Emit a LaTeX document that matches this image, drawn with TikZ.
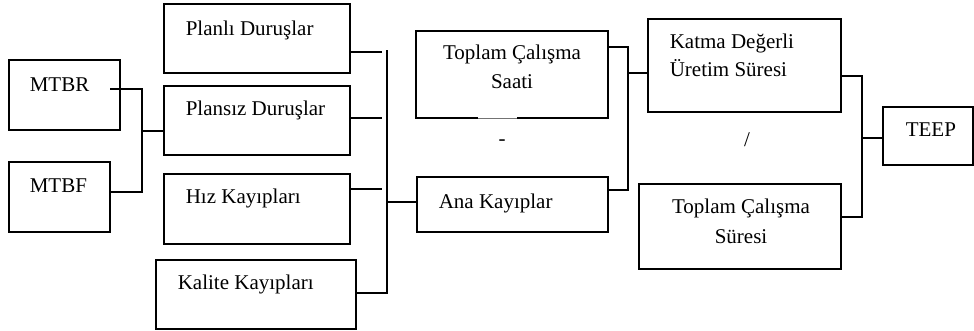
\documentclass[tikz,border=0pt]{standalone}
\usepackage{fontspec}
\setmainfont{Liberation Serif}
\usetikzlibrary{calc}
\begin{document}
\begin{tikzpicture}[x=1pt,y=-1pt,
  line width=1.6pt,
  box/.style={draw, rectangle, inner sep=0pt, outer sep=0pt, anchor=north west},
  lbl/.style={inner sep=0pt, anchor=base west, font=\fontsize{21}{28.5}\selectfont},
  clbl/.style={inner sep=0pt, anchor=base, align=center, font=\fontsize{21}{28.5}\selectfont},
  wire/.style={line width=1.6pt}]
\useasboundingbox (0,0) rectangle (974,331);

% boxes: top-left corner plus size
\node[box, minimum width=111pt, minimum height=70pt] (mtbr) at (9,60) {};
\node[box, minimum width=101pt, minimum height=70pt] (mtbf) at (9,162) {};
\node[box, minimum width=186pt, minimum height=69pt] (planli) at (164,4) {};
\node[box, minimum width=186pt, minimum height=69pt] (plansiz) at (164,86) {};
\node[box, minimum width=186pt, minimum height=70pt] (hiz) at (164,174) {};
\node[box, minimum width=200pt, minimum height=69pt] (kalite) at (156,260) {};
\node[box, minimum width=192pt, minimum height=87pt] (tcs) at (416,31) {};
\node[box, minimum width=191pt, minimum height=55pt] (ana) at (417,177) {};
\node[box, minimum width=193pt, minimum height=93pt] (katma) at (648,19) {};
\node[box, minimum width=202pt, minimum height=85pt] (tsure) at (639,184) {};
\node[box, minimum width=90pt, minimum height=58pt] (teep) at (883,107) {};

% thin stretch in the lower edge of the working-hours box
\draw[white, line width=2.2pt] (478,118) -- (517,118);
\draw[black!55, line width=0.5pt] (478,118.6) -- (517,118.6);

% labels
\node[lbl] (tmtbr) at (29,92) {MTBR};
\node[lbl] (tmtbf) at (29,193) {MTBF};
\node[lbl] (tplanli) at (185,36) {Planlı Duruşlar};
\node[lbl] (tplansiz) at (185,116) {Plansız Duruşlar};
\node[lbl] (thiz) at (185,204) {Hız Kayıpları};
\node[lbl] (tkalite) at (177,289) {Kalite Kayıpları};
\node[clbl] (ttcs1) at (512,60) {Toplam Çalışma};
\node[clbl] (ttcs2) at (512,89) {Saati};
\node[lbl] (tana) at (438,208) {Ana Kayıplar};
\node[lbl] (tkatma1) at (669,49) {Katma Değerli};
\node[lbl] (tkatma2) at (669,77) {Üretim Süresi};
\node[clbl] (ttsure1) at (741,214) {Toplam Çalışma};
\node[clbl] (ttsure2) at (741,243) {Süresi};
\node[lbl] (tteep) at (905,137) {TEEP};
\node[clbl] (tminus) at (502,146) {-};
\node[clbl] (tslash) at (747,147) {/};

% junction points of the bracket connectors
\coordinate (j1) at (142,131);
\coordinate (b1top) at (387,50);
\coordinate (b1mid) at (387,202);
\coordinate (b1bot) at (387,293);
\coordinate (b2top) at (628,47);
\coordinate (b2mid) at (628,73);
\coordinate (b2bot) at (628,190);
\coordinate (b3top) at (862,76);
\coordinate (b3mid) at (862,138);
\coordinate (b3bot) at (862,217);
\coordinate (e1) at (382,52);
\coordinate (e2) at (382,118);
\coordinate (e3) at (382,189);

% MTBR / MTBF into unplanned stops
\draw[wire] ($(mtbr.north east)+(-10,29)$) -- (142,89) -- (142,192) -- ($(mtbf.north east)+(0,30)$);
\draw[wire] (j1) -- (j1 -| plansiz.west);

% loss boxes into main losses
\draw[wire] (planli.east |- e1) -- (e1);
\draw[wire] (plansiz.east |- e2) -- (e2);
\draw[wire] (hiz.east |- e3) -- (e3);
\draw[wire] (kalite.east |- b1bot) -- (b1bot) -- (b1top);
\draw[wire] (b1mid) -- (b1mid -| ana.west);

% working hours minus main losses
\draw[wire] (tcs.east |- b2top) -- (b2top) -- (b2bot) -- (b2bot -| ana.east);
\draw[wire] (b2mid) -- (b2mid -| katma.west);

% value-added time over total working time
\draw[wire] (katma.east |- b3top) -- (b3top) -- (b3bot) -- (b3bot -| tsure.east);
\draw[wire] (b3mid) -- (b3mid -| teep.west);
\end{tikzpicture}
\end{document}
